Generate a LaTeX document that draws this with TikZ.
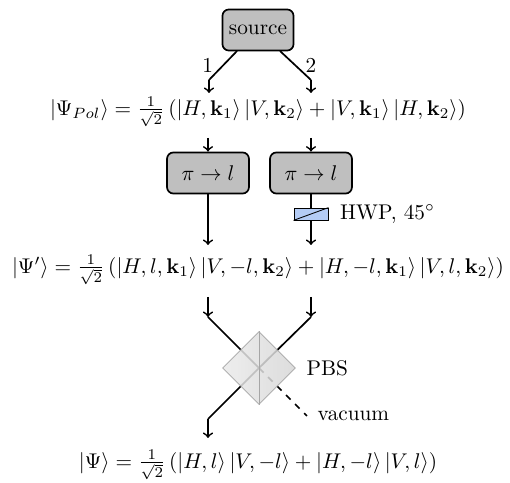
\documentclass[tikz,border=0pt]{standalone}
\usepackage{amsmath}
\usetikzlibrary{shapes.geometric}
\definecolor{wpblue}{RGB}{180,204,245}
\tikzset{
  box/.style={draw,thick,rounded corners=3pt,fill=gray!50,minimum width=38.5pt,minimum height=19.3pt,inner sep=1pt},
  beam/.style={thick},
  hwpbox/.style={draw,fill=wpblue,minimum width=16pt,minimum height=5.6pt,inner sep=0pt},
}
\begin{document}
\begin{tikzpicture}[x=0.47pt,y=-0.47pt,>=to]
\useasboundingbox (0,0) rectangle (510,483);
% source and the two photons
\node[box,minimum width=33.4pt] (src) at (258,30) {source};
\coordinate (a1) at (209,80);
\coordinate (a2) at (311,80);
\draw[beam] (237,51)--(a1) node[midway,left=1pt] {1};
\draw[beam] (280,51)--(a2) node[midway,right=1pt] {2};
\draw[beam,->] (a1)--(209,93);
\draw[beam,->] (a2)--(311,93);
\node (eq1) at (258,112) {$|\Psi_{Pol}\rangle=\frac{1}{\sqrt{2}}\left(|H,\mathbf{k}_1\rangle\,|V,\mathbf{k}_2\rangle+|V,\mathbf{k}_1\rangle\,|H,\mathbf{k}_2\rangle\right)$};
% spin to orbit conversion
\node[box] (c1) at (208,173) {$\pi\rightarrow l$};
\node[box] (c2) at (311,173) {$\pi\rightarrow l$};
\draw[beam,->] (208,138)--(c1);
\draw[beam,->] (311,138)--(c2);
\node[hwpbox] (hwp) at (311,214) {};
\draw (hwp.south west)--(hwp.north east);
\node[right=2pt] at (hwp.east) {HWP, $45^\circ$};
\draw[beam,->] (c1)--(208,245);
\draw[beam] (c2)--(hwp);
\draw[beam,->] (hwp)--(311,245);
\node (eq2) at (258,270) {$|\Psi'\rangle=\frac{1}{\sqrt{2}}\left(|H,l,\mathbf{k}_1\rangle\,|V,-l,\mathbf{k}_2\rangle+|H,-l,\mathbf{k}_1\rangle\,|V,l,\mathbf{k}_2\rangle\right)$};
% PBS
\coordinate (p) at (259,368);
\coordinate (b1) at (208,317);
\coordinate (b2) at (311,317);
\coordinate (out) at (208,419);
\coordinate (vac) at (307,416);
\draw[beam,->] (208,297)--(b1);
\draw[beam,->] (311,297)--(b2);
\draw[beam] (b1)--(p) (b2)--(p)--(out);
\draw[beam,->] (out)--(208,438);
\draw[beam,dashed] (p)--(vac);
\node[diamond,aspect=1,minimum size=34.3pt,inner sep=0pt,draw=gray!70,left color=gray!16,right color=gray!32,opacity=0.85] (pbs) at (p) {};
\draw[gray!70] (pbs.north)--(pbs.south);
\node[right=1.5pt] at (pbs.east) {PBS};
\node[right=1.5pt] at (vac) {vacuum};
\node (eq3) at (258,465) {$|\Psi\rangle=\frac{1}{\sqrt{2}}\left(|H,l\rangle\,|V,-l\rangle+|H,-l\rangle\,|V,l\rangle\right)$};
\end{tikzpicture}
\end{document}
